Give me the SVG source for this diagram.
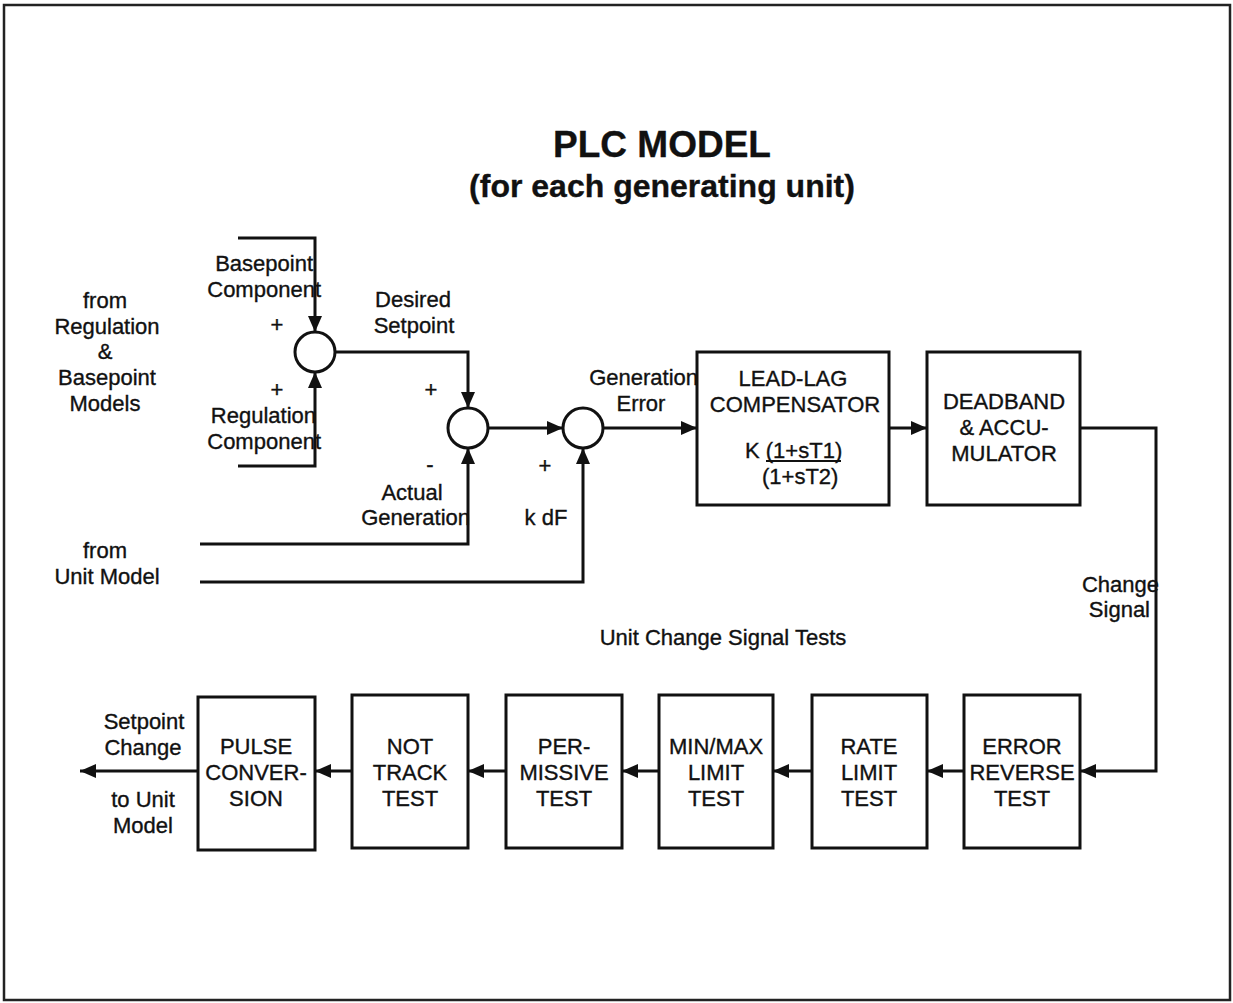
<svg xmlns="http://www.w3.org/2000/svg" width="1233" height="1003" viewBox="0 0 1233 1003">
<style>
text{font-family:"Liberation Sans",Arial,sans-serif;font-size:22px;fill:#111;stroke:#111;stroke-width:0.35}
.c{text-anchor:middle}
.e{text-anchor:end}
.t1{font-size:37px;font-weight:bold}
.t2{font-size:32px;font-weight:bold}
.box{fill:#fff;stroke:#111;stroke-width:3}
.sum{fill:#fff;stroke:#111;stroke-width:3}
.ln{fill:none;stroke:#111;stroke-width:3}
</style>
<defs>
<marker id="ah" markerUnits="userSpaceOnUse" markerWidth="17" markerHeight="14" refX="16" refY="7" orient="auto">
<path d="M0,0 L16,7 L0,14 z" fill="#111"/>
</marker>
</defs>
<rect x="0" y="0" width="1233" height="1003" fill="#fff"/>
<rect x="4" y="5" width="1226" height="995" fill="none" stroke="#222" stroke-width="2.5"/>
<g id="title">
<text class="c t1" x="662" y="157">PLC MODEL</text>
<text class="c t2" x="662" y="197">(for each generating unit)</text>
</g>
<g id="connectors">
<path class="ln" d="M238,238 H315 V332" marker-end="url(#ah)"/>
<path class="ln" d="M238,466 H315 V372" marker-end="url(#ah)"/>
<path class="ln" d="M335,352 H468 V408" marker-end="url(#ah)"/>
<path class="ln" d="M200,544 H468 V448" marker-end="url(#ah)"/>
<path class="ln" d="M488,428 H563" marker-end="url(#ah)"/>
<path class="ln" d="M200,582 H583 V448" marker-end="url(#ah)"/>
<path class="ln" d="M603,428 H697" marker-end="url(#ah)"/>
<path class="ln" d="M889,428 H927" marker-end="url(#ah)"/>
<path class="ln" d="M1080,428 H1156 V771 H1080" marker-end="url(#ah)"/>
<path class="ln" d="M964,771 H927" marker-end="url(#ah)"/>
<path class="ln" d="M812,771 H773" marker-end="url(#ah)"/>
<path class="ln" d="M659,771 H622" marker-end="url(#ah)"/>
<path class="ln" d="M506,771 H468" marker-end="url(#ah)"/>
<path class="ln" d="M352,771 H315" marker-end="url(#ah)"/>
<path class="ln" d="M198,771 H80" marker-end="url(#ah)"/>
</g>
<g id="sum1"><circle class="sum" cx="315" cy="352" r="20"/></g>
<g id="sum2"><circle class="sum" cx="468" cy="428" r="20"/></g>
<g id="sum3"><circle class="sum" cx="583" cy="428" r="20"/></g>
<g id="leadlag">
<rect class="box" x="697" y="352" width="192" height="153"/>
<text class="c" x="793" y="386">LEAD-LAG</text>
<text class="c" x="795" y="412">COMPENSATOR</text>
<text x="745" y="458">K <tspan>(1+sT1)</tspan></text>
<line x1="766" y1="461" x2="841" y2="461" stroke="#111" stroke-width="1.8"/>
<text x="762" y="484">(1+sT2)</text>
</g>
<g id="deadband">
<rect class="box" x="927" y="352" width="153" height="153"/>
<text class="c" x="1004" y="409">DEADBAND</text>
<text class="c" x="1004" y="435">&amp; ACCU-</text>
<text class="c" x="1004" y="461">MULATOR</text>
</g>
<g id="errorreverse">
<rect class="box" x="964" y="695" width="116" height="153"/>
<text class="c" x="1022" y="754">ERROR</text>
<text class="c" x="1022" y="780">REVERSE</text>
<text class="c" x="1022" y="806">TEST</text>
</g>
<g id="ratelimit">
<rect class="box" x="812" y="695" width="115" height="153"/>
<text class="c" x="869" y="754">RATE</text>
<text class="c" x="869" y="780">LIMIT</text>
<text class="c" x="869" y="806">TEST</text>
</g>
<g id="minmax">
<rect class="box" x="659" y="695" width="114" height="153"/>
<text class="c" x="716" y="754">MIN/MAX</text>
<text class="c" x="716" y="780">LIMIT</text>
<text class="c" x="716" y="806">TEST</text>
</g>
<g id="permissive">
<rect class="box" x="506" y="695" width="116" height="153"/>
<text class="c" x="564" y="754">PER-</text>
<text class="c" x="564" y="780">MISSIVE</text>
<text class="c" x="564" y="806">TEST</text>
</g>
<g id="nottrack">
<rect class="box" x="352" y="695" width="116" height="153"/>
<text class="c" x="410" y="754">NOT</text>
<text class="c" x="410" y="780">TRACK</text>
<text class="c" x="410" y="806">TEST</text>
</g>
<g id="pulse">
<rect class="box" x="198" y="697" width="117" height="153"/>
<text class="c" x="256" y="754">PULSE</text>
<text class="c" x="256" y="780">CONVER-</text>
<text class="c" x="256" y="806">SION</text>
</g>
<g id="labels">
<text class="c" x="105" y="308">from</text>
<text class="c" x="107" y="334">Regulation</text>
<text class="c" x="105" y="359">&amp;</text>
<text class="c" x="107" y="385">Basepoint</text>
<text class="c" x="105" y="411">Models</text>
<text class="e" x="313" y="271">Basepoint</text>
<text class="e" x="321" y="297">Component</text>
<text class="c" x="277" y="332">+</text>
<text class="c" x="277" y="397">+</text>
<text class="e" x="316" y="423">Regulation</text>
<text class="e" x="321" y="449">Component</text>
<text class="c" x="413" y="307">Desired</text>
<text class="c" x="414" y="333">Setpoint</text>
<text class="c" x="431" y="397">+</text>
<text class="c" x="430" y="472">-</text>
<text class="c" x="412" y="500">Actual</text>
<text class="e" x="470" y="525">Generation</text>
<text class="c" x="545" y="473">+</text>
<text class="c" x="546" y="525">k dF</text>
<text class="e" x="698" y="385">Generation</text>
<text class="c" x="641" y="411">Error</text>
<text class="c" x="105" y="558">from</text>
<text class="c" x="107" y="584">Unit Model</text>
<text class="e" x="1159" y="592">Change</text>
<text class="e" x="1150" y="617">Signal</text>
<text class="c" x="723" y="645">Unit Change Signal Tests</text>
<text class="c" x="144" y="729">Setpoint</text>
<text class="c" x="143" y="755">Change</text>
<text class="c" x="143" y="807">to Unit</text>
<text class="c" x="143" y="833">Model</text>
</g>
</svg>
